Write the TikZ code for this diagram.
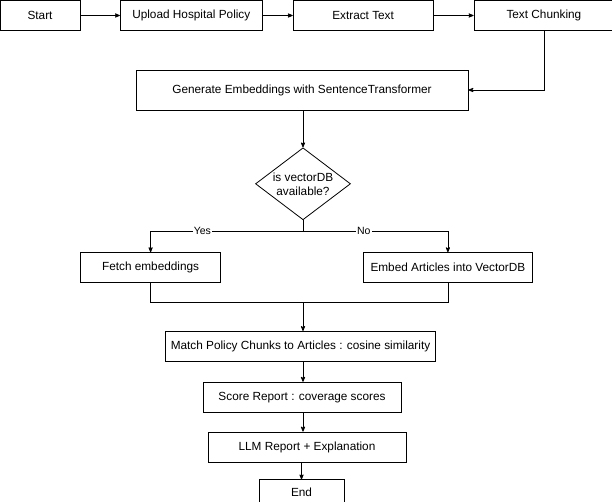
\documentclass[tikz,border=0pt]{standalone}
\usepackage{fontspec}
\setmainfont{Liberation Sans}
\usetikzlibrary{arrows,positioning,shapes}

\begin{document}
\begin{tikzpicture}[>=stealth',x=1pt,y=-1pt,line width=0.8pt,font=\fontsize{11.8}{14}\selectfont]
	\tikzstyle{block} = [draw, rectangle, minimum height=30pt, inner sep=0pt]
	\tikzstyle{decision} = [draw, diamond, aspect=1.3, minimum width=95pt, minimum height=72pt, inner sep=0pt, align=center]
	\tikzstyle{answer} = [fill=white, inner sep=1pt, font=\fontsize{10.5}{12}\selectfont]

	\useasboundingbox (0,0) rectangle (612,502);

	% top row
	\node [block, minimum width=80pt] (start) at (40,15.5) {Start};
	\node [block, minimum width=142pt, right = 39.5pt of start] (upload) {Upload Hospital Policy};
	\node [block, minimum width=140pt, right = 30pt of upload] (extract) {Extract Text};
	\node [block, minimum width=140pt, right = 40pt of extract] (chunk) {Text Chunking};

	\node [block, minimum width=332pt, minimum height=40pt] (embed) at (302,90) {Generate Embeddings with SentenceTransformer};

	\node [decision, below = 37pt of embed, xshift=1pt] (vdb) {is vectorDB\\available?};
	\node [coordinate, below = 11pt of vdb.south] (split) {};

	\node [block, minimum width=140pt, below left = 32pt and 82pt of vdb.south] (fetch) {Fetch embeddings};
	\node [block, minimum width=169pt, below right = 32pt and 60pt of vdb.south] (store) {Embed Articles into VectorDB};

	\node [coordinate, below = 19pt of fetch] (c1) {};
	\node [coordinate, below = 19pt of store] (c2) {};

	\node [block, minimum width=270pt, below = 48pt of fetch.south -| split, xshift=-2.5pt] (match) {Match Policy Chunks to Articles : cosine similarity};
	\node [block, minimum width=198pt, below = 20pt of match, xshift=1.5pt] (score) {Score Report : coverage scores};
	\node [block, minimum width=198pt, below = 19pt of score, xshift=5pt] (llm) {LLM Report + Explanation};
	\node [block, minimum width=85pt, minimum height=24pt, below = 17pt of llm, xshift=-5.5pt] (end) {End};

	\draw [->] (start) -- (upload);
	\draw [->] (upload) -- (extract);
	\draw [->] (extract) -- (chunk);
	\draw [->] (chunk.south) |- (embed.east);
	\draw [->] (embed.south -| vdb.north) -- (vdb.north);
	\draw [-] (vdb.south) -- (split);
	\draw [->] (split) -| node[answer, pos=0.33]{Yes} (fetch.north);
	\draw [->] (split) -| node[answer, pos=0.21]{No} (store.north);
	\draw [-] (fetch.south) -- (c1) -| (store.south);
	\draw [->] (c1 -| split) -- (match.north -| split);
	\draw [->] (match.south -| split) -- (score.north -| split);
	\draw [->] (score.south -| split) -- (llm.north -| split);
	\draw [->] (llm.south -| end.north) -- (end.north);
\end{tikzpicture}
\end{document}
